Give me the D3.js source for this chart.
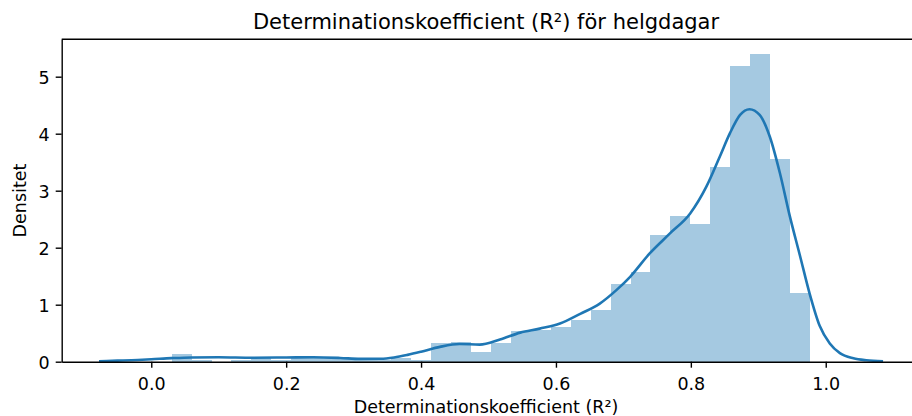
<!DOCTYPE html>
<html>
<head>
<meta charset="utf-8">
<script src="https://cdn.jsdelivr.net/npm/d3@7"></script>
<style>
  body { margin: 0; background: #fff; }
  text { font-family: "DejaVu Sans", sans-serif; fill: #000; }
  .axis path, .axis line { stroke: #000; stroke-width: 1.4px; }
  .axis text { font-size: 17.5px; }
</style>
</head>
<body>
<div id="chart"></div>
<script>
// histogram: 32 bins between min and max of the R² values, heights as density
var dataMin = 0.0302;
var dataMax = 0.9768;
var densities = [0.13, 0.03, 0.0, 0.03, 0.06, 0.03, 0.06, 0.09, 0.06, 0.03, 0.03, 0.06, 0.03,
  0.32, 0.35, 0.175, 0.32, 0.53, 0.56, 0.61, 0.74, 0.91,
  1.36, 1.58, 2.22, 2.56, 2.42, 3.42, 5.18, 5.39, 3.56, 1.21];

// kde curve
var kdeX = [-0.0775, -0.05, -0.02, 0.0, 0.03, 0.06, 0.10, 0.15, 0.20, 0.24, 0.28, 0.31, 0.34, 0.36, 0.38, 0.40,
  0.428, 0.457, 0.487, 0.517, 0.547, 0.576, 0.606, 0.636, 0.665, 0.690, 0.710, 0.739, 0.769, 0.799,
  0.823, 0.843, 0.858, 0.873, 0.887, 0.902, 0.917, 0.932, 0.947, 0.962, 0.976, 0.991, 1.006, 1.021, 1.041, 1.06, 1.085];
var kdeY = [0.008, 0.018, 0.03, 0.042, 0.062, 0.075, 0.078, 0.07, 0.074, 0.078, 0.066, 0.05, 0.052, 0.075, 0.12, 0.175,
  0.26, 0.31, 0.30, 0.39, 0.51, 0.58, 0.67, 0.84, 1.02, 1.26, 1.49, 1.90, 2.25, 2.60,
  3.07, 3.60, 4.01, 4.33, 4.43, 4.33, 3.95, 3.31, 2.54, 1.85, 1.20, 0.63, 0.32, 0.15, 0.06, 0.025, 0.008];

var xTicks = [0.0, 0.2, 0.4, 0.6, 0.8, 1.0];
var yTicks = [0, 1, 2, 3, 4, 5];

var title = "Determinationskoefficient (R²) för helgdagar";
var xLabel = "Determinationskoefficient (R²)";
var yLabel = "Densitet";

var outerWidth = 912,
  outerHeight = 416,
  margin = { top: 39.3, left: 61.7 },
  width = 861.5,
  height = 322.4;

var svg = d3.select("#chart").append("svg")
  .attr("width", outerWidth)
  .attr("height", outerHeight)
  .append("g")
  .attr("transform", "translate(" + margin.left + "," + margin.top + ")");

var xScale = d3.scaleLinear()
  .domain([-0.1328, 1.1445])
  .range([0, width]);

var yScale = d3.scaleLinear()
  .domain([0, 5.656])
  .range([height, 0]);

var binWidth = (dataMax - dataMin) / densities.length;
var bins = densities.map(function(d, i) {
  return { x0: dataMin + i * binWidth, x1: dataMin + (i + 1) * binWidth, y: d };
});

// bars
svg.selectAll("rect.bar")
  .data(bins)
  .enter()
  .append("rect")
  .attr("class", "bar")
  .attr("x", function(d) { return xScale(d.x0); })
  .attr("y", function(d) { return yScale(d.y); })
  .attr("width", function(d) { return xScale(d.x1) - xScale(d.x0); })
  .attr("height", function(d) { return yScale(0) - yScale(d.y); })
  .attr("fill", "#1f77b4")
  .attr("fill-opacity", 0.4)
  .attr("shape-rendering", "crispEdges");

// kde line
var kde = kdeX.map(function(x, i) { return [x, kdeY[i]]; });
var line = d3.line()
  .x(function(d) { return xScale(d[0]); })
  .y(function(d) { return yScale(d[1]); })
  .curve(d3.curveMonotoneX);

svg.append("path")
  .datum(kde)
  .attr("d", line)
  .attr("fill", "none")
  .attr("stroke", "#1f77b4")
  .attr("stroke-width", 2.6);

// axes
var xAxis = d3.axisBottom(xScale)
  .tickValues(xTicks)
  .tickFormat(d3.format(".1f"))
  .tickSize(6)
  .tickPadding(6)
  .tickSizeOuter(0);

var yAxis = d3.axisLeft(yScale)
  .tickValues(yTicks)
  .tickFormat(d3.format("d"))
  .tickSize(6)
  .tickPadding(6)
  .tickSizeOuter(0);

svg.append("g")
  .attr("class", "x axis")
  .attr("transform", "translate(0," + height + ")")
  .call(xAxis)
  .selectAll("text").attr("dy", "0.95em");

svg.append("g")
  .attr("class", "y axis")
  .call(yAxis)
  .selectAll("text").attr("dy", "0.36em");

// top and right spines
svg.append("line")
  .attr("x1", 0).attr("x2", width)
  .attr("y1", 0).attr("y2", 0)
  .attr("stroke", "#000").attr("stroke-width", 1.4);
svg.append("line")
  .attr("x1", width).attr("x2", width)
  .attr("y1", 0).attr("y2", height)
  .attr("stroke", "#000").attr("stroke-width", 1.4);

// labels
svg.append("text")
  .attr("x", (486 - margin.left))
  .attr("y", -10.8)
  .attr("text-anchor", "middle")
  .style("font-size", "21px")
  .text(title);

svg.append("text")
  .attr("x", (486 - margin.left))
  .attr("y", height + 51)
  .attr("text-anchor", "middle")
  .style("font-size", "17.5px")
  .text(xLabel);

svg.append("text")
  .attr("transform", "rotate(-90)")
  .attr("x", -height / 2)
  .attr("y", -36)
  .attr("text-anchor", "middle")
  .style("font-size", "17.5px")
  .text(yLabel);
</script>
</body>
</html>
